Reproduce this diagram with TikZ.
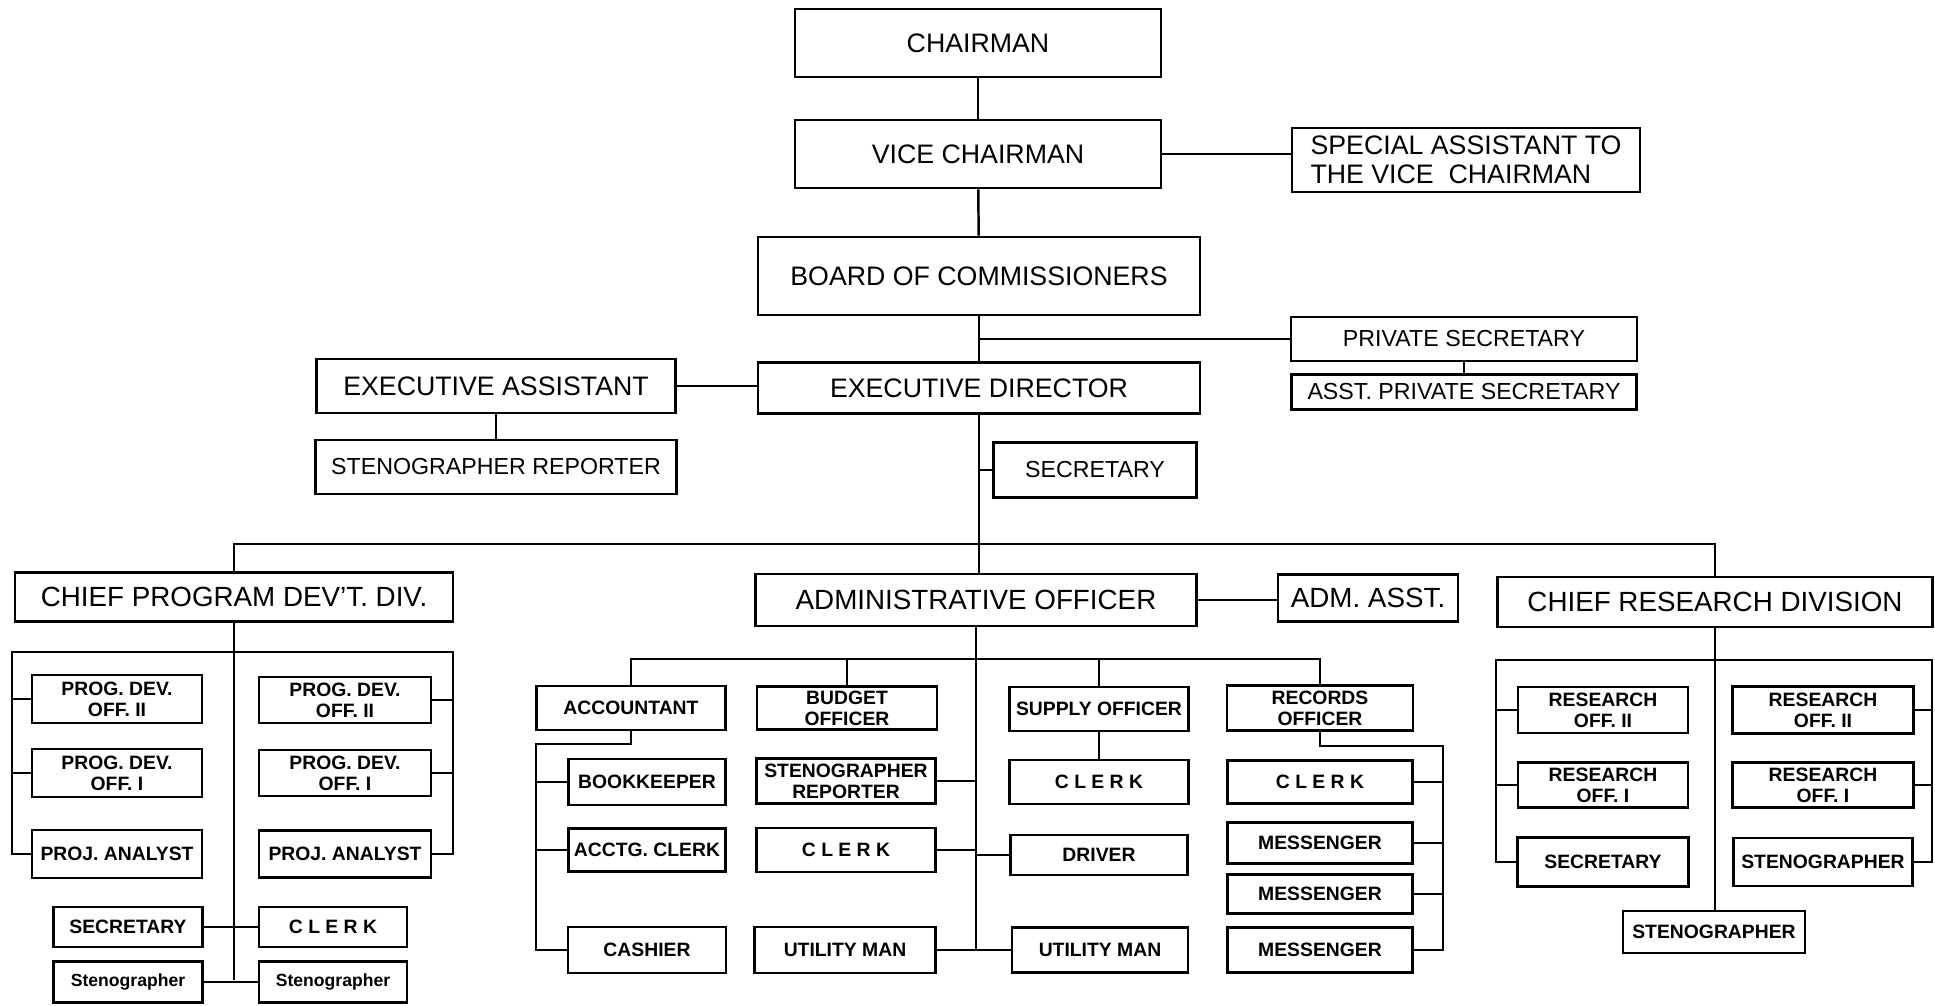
\documentclass[tikz,border=0pt]{standalone}
\usepackage{fontspec}
\setmainfont{Liberation Sans}

\tikzset{
    sz/.style n args={2}{minimum width=#1*0.01cm, minimum height=#2*0.01cm},
    box/.style={draw, line width=0.8pt, inner sep=1pt, align=center, font=\fontsize{7.6}{8.3}\selectfont},
    divbox/.style={box, font=\fontsize{7.9}{8.5}\selectfont},
    midbox/.style={box, font=\fontsize{6.6}{7.2}\selectfont},
    smallbox/.style={box, font=\fontsize{5.5}{5.9}\selectfont\bfseries},
    stenobox/.style={box, font=\fontsize{5}{5.5}\selectfont\bfseries},
    link/.style={line width=0.7pt}
}

\begin{document}
\begin{tikzpicture}[x=0.01cm, y=-0.01cm]
    \fill[white] (0,0) rectangle (1935,1006);
    \useasboundingbox (0,0) rectangle (1935,1006);

    % Top of the chart
    \node[box, sz={366}{68}] (chair) at (978,43) {CHAIRMAN};
    \node[box, sz={366}{68}] (vice) at (978,154) {VICE CHAIRMAN};
    \node[box, sz={348}{64}, align=left] (spasst) at (1466,160) {SPECIAL ASSISTANT TO\\THE VICE\ \ CHAIRMAN};
    \node[box, sz={442}{78}] (board) at (979,276) {BOARD OF COMMISSIONERS};
    \node[midbox, sz={346}{44}] (privsec) at (1464,339) {PRIVATE SECRETARY};
    \node[midbox, sz={345}{35}] (asstpriv) at (1464,392) {ASST. PRIVATE SECRETARY};
    \node[box, sz={442}{51}] (execdir) at (979,388) {EXECUTIVE DIRECTOR};
    \node[box, sz={359}{54}] (execasst) at (496,386) {EXECUTIVE ASSISTANT};
    \node[midbox, sz={361}{54}] (stenorep) at (496,467) {STENOGRAPHER REPORTER};
    \node[midbox, sz={203}{55}] (secdir) at (1095,470) {SECRETARY};

    % Division heads
    \node[divbox, sz={438}{49}] (chiefprog) at (234,597) {CHIEF PROGRAM DEV'T. DIV.};
    \node[divbox, sz={441}{52}] (admoff) at (976,600) {ADMINISTRATIVE OFFICER};
    \node[divbox, sz={180}{47}] (admasst) at (1368,598) {ADM. ASST.};
    \node[divbox, sz={435}{50}] (chiefres) at (1715,602) {CHIEF RESEARCH DIVISION};

    % Program development division
    \node[smallbox, sz={170}{48}] (pdoIIl) at (117,699) {PROG. DEV.\\OFF. II};
    \node[smallbox, sz={170}{48}] (pdoIl) at (117,773) {PROG. DEV.\\OFF. I};
    \node[smallbox, sz={170}{48}] (pal) at (117,854) {PROJ. ANALYST};
    \node[smallbox, sz={172}{46}] (pdoIIr) at (345,700) {PROG. DEV.\\OFF. II};
    \node[smallbox, sz={172}{46}] (pdoIr) at (345,773) {PROG. DEV.\\OFF. I};
    \node[smallbox, sz={172}{47}] (par) at (345,854) {PROJ. ANALYST};
    \node[smallbox, sz={149}{40}] (secprog) at (128,927) {SECRETARY};
    \node[smallbox, sz={148}{40}] (clerkprog) at (333,927) {C L E R K};
    \node[stenobox, sz={149}{41}] (stenol) at (128,982) {Stenographer};
    \node[stenobox, sz={148}{41}] (stenor) at (333,982) {Stenographer};

    % Administrative division
    \node[smallbox, sz={189}{44}] (acct) at (631,708) {ACCOUNTANT};
    \node[smallbox, sz={180}{43}] (budget) at (847,708) {BUDGET\\OFFICER};
    \node[smallbox, sz={179}{44}] (supply) at (1099,709) {SUPPLY OFFICER};
    \node[smallbox, sz={186}{45}] (records) at (1320,708) {RECORDS\\OFFICER};
    \node[smallbox, sz={157}{46}] (bookk) at (647,782) {BOOKKEEPER};
    \node[smallbox, sz={157}{43}] (acctg) at (647,850) {ACCTG. CLERK};
    \node[smallbox, sz={158}{46}] (cashier) at (647,950) {CASHIER};
    \node[smallbox, sz={179}{45}] (stenoadm) at (846,781) {STENOGRAPHER\\REPORTER};
    \node[smallbox, sz={179}{44}] (clerkadm) at (846,850) {C L E R K};
    \node[smallbox, sz={181}{46}] (utiladm) at (845,950) {UTILITY MAN};
    \node[smallbox, sz={179}{44}] (clerksup) at (1099,782) {C L E R K};
    \node[smallbox, sz={177}{40}] (driver) at (1099,855) {DRIVER};
    \node[smallbox, sz={176}{45}] (utilsup) at (1100,950) {UTILITY MAN};
    \node[smallbox, sz={185}{43}] (clerkrec) at (1320,782) {C L E R K};
    \node[smallbox, sz={185}{41}] (messa) at (1320,843) {MESSENGER};
    \node[smallbox, sz={185}{39}] (messb) at (1320,894) {MESSENGER};
    \node[smallbox, sz={185}{45}] (messc) at (1320,950) {MESSENGER};

    % Research division
    \node[smallbox, sz={170}{46}] (roIIl) at (1603,710) {RESEARCH\\OFF. II};
    \node[smallbox, sz={170}{45}] (roIl) at (1603,785) {RESEARCH\\OFF. I};
    \node[smallbox, sz={171}{49}] (secres) at (1603,862) {SECRETARY};
    \node[smallbox, sz={181}{47}] (roIIr) at (1823,710) {RESEARCH\\OFF. II};
    \node[smallbox, sz={181}{45}] (roIr) at (1823,785) {RESEARCH\\OFF. I};
    \node[smallbox, sz={179}{48}] (stenores) at (1823,862) {STENOGRAPHER};
    \node[smallbox, sz={182}{42}] (stenobot) at (1714,932) {STENOGRAPHER};

    % Bus and rail points
    \coordinate (bus) at (979,544);
    \coordinate (pbusl) at (12,652);
    \coordinate (pbusr) at (453,652);
    \coordinate (ptrunk) at (234,980);
    \coordinate (abus) at (976,659);
    \coordinate (atrunk) at (976,951);
    \coordinate (acctrail) at (536,744);
    \coordinate (recrail) at (1443,746);
    \coordinate (rbusl) at (1496,660);
    \coordinate (rbusr) at (1932,660);

    % Lines of the top of the chart
    \draw[link] (chair) -- (vice);
    \draw[link] (vice) -- (board);
    \draw[link] (board) -- (execdir);
    \draw[link] (vice.east) -- (vice.east -| spasst.west);
    \draw[link] (privsec.west) -- (privsec.west -| board.south);
    \draw[link] (privsec) -- (asstpriv);
    \draw[link] (execasst.east) -- (execasst.east -| execdir.west);
    \draw[link] (execasst) -- (stenorep);
    \draw[link] (secdir.west) -- (secdir.west -| execdir.south);
    \draw[link] (execdir.south) -- (execdir.south |- admoff.north);
    \draw[link] (chiefprog.north) |- (bus) -| (chiefres.north);
    \draw[link] (admoff.east) -- (admoff.east -| admasst.west);

    % Lines of the program division
    \draw[link] (chiefprog.south) -- (ptrunk);
    \draw[link] (pal.west) -| (pbusl) -- (pbusr) |- (par.east);
    \draw[link] (pdoIIl.west) -- (pdoIIl.west -| pbusl);
    \draw[link] (pdoIl.west) -- (pdoIl.west -| pbusl);
    \draw[link] (pdoIIr.east) -- (pdoIIr.east -| pbusr);
    \draw[link] (pdoIr.east) -- (pdoIr.east -| pbusr);
    \draw[link] (secprog) -- (clerkprog);
    \draw[link] (stenol) -- (stenor);

    % Lines of the administrative division
    \draw[link] (admoff.south) -- (atrunk);
    \draw[link] (acct.north) |- (abus) -| (records.north);
    \draw[link] (budget.north) -- (budget.north |- abus);
    \draw[link] (supply.north) -- (supply.north |- abus);
    \draw[link] (acct.south) |- (acctrail) |- (cashier.west);
    \draw[link] (bookk.west) -- (bookk.west -| acctrail);
    \draw[link] (acctg.west) -- (acctg.west -| acctrail);
    \draw[link] (stenoadm.east) -- (stenoadm.east -| atrunk);
    \draw[link] (clerkadm.east) -- (clerkadm.east -| atrunk);
    \draw[link] (utiladm.east) -- (utiladm.east -| atrunk);
    \draw[link] (driver.west) -- (driver.west -| atrunk);
    \draw[link] (utilsup.west) -- (utilsup.west -| atrunk);
    \draw[link] (supply) -- (clerksup);
    \draw[link] (records.south) |- (recrail) |- (messc.east);
    \draw[link] (clerkrec.east) -- (clerkrec.east -| recrail);
    \draw[link] (messa.east) -- (messa.east -| recrail);
    \draw[link] (messb.east) -- (messb.east -| recrail);

    % Lines of the research division
    \draw[link] (chiefres.south) -- (chiefres.south |- stenobot.north);
    \draw[link] (secres.west) -| (rbusl) -- (rbusr) |- (stenores.east);
    \draw[link] (roIIl.west) -- (roIIl.west -| rbusl);
    \draw[link] (roIl.west) -- (roIl.west -| rbusl);
    \draw[link] (roIIr.east) -- (roIIr.east -| rbusr);
    \draw[link] (roIr.east) -- (roIr.east -| rbusr);
\end{tikzpicture}
\end{document}
